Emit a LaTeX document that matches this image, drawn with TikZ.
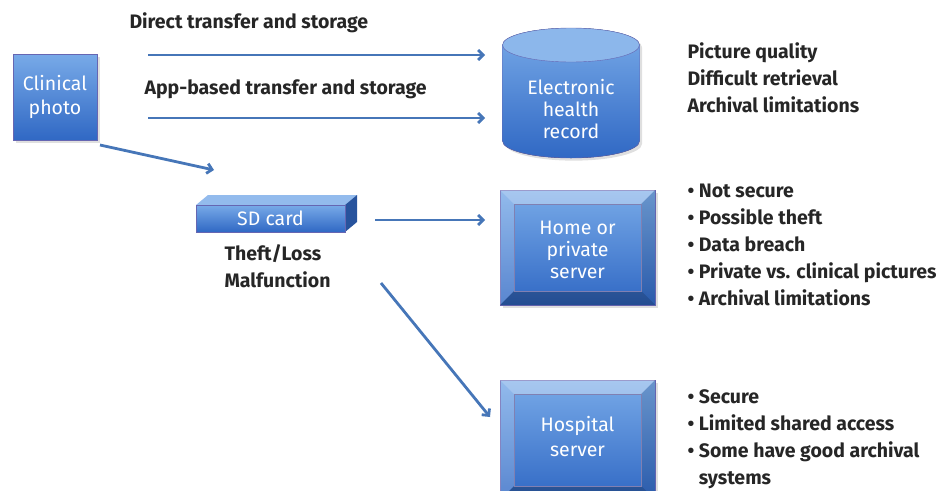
\documentclass[tikz,border=0pt]{standalone}
\usepackage{fontspec}
\setmainfont{Fira Sans}
\usetikzlibrary{positioning,arrows,arrows.meta,calc,shadows}
\definecolor{arrowblue}{RGB}{70,118,184}
\definecolor{lightblue}{RGB}{120,170,232}
\definecolor{darkblue}{RGB}{48,104,196}

\begin{document}
\begin{tikzpicture}[
    x=1pt, y=1pt,
    >={Straight Barb[length=5pt,width=10pt]},
    blu/.style ={
        top color=lightblue,
        bottom color=darkblue,
        draw=blue!50!black!60,
        text=white,
        align=center,
        font=\fontsize{19.5}{24}\selectfont
    },
    conn/.style ={
        ->,
        line width=2.8pt,
        draw=arrowblue
    },
    lbl/.style ={
        text=black!85,
        align=left,
        font=\fontsize{19.5}{27}\selectfont\bfseries
    }
    ]
    \useasboundingbox (0,0) rectangle (939,-490);

    \node[blu, minimum width=84, minimum height=86, drop shadow={opacity=0.25}]
        (photo) at (55,-97) {Clinical\\photo};

    \fill[top color=lightblue, bottom color=darkblue, drop shadow={opacity=0.25}]
        (502.5,-45) -- (502.5,-141) arc[start angle=180, end angle=360, x radius=68.5, y radius=17]
        -- (639.5,-45) arc[start angle=0, end angle=180, x radius=68.5, y radius=17] -- cycle;
    \draw[draw=blue!50!black!60, fill=lightblue!85!white]
        (571,-45) ellipse[x radius=68.5, y radius=17];
    \draw[draw=blue!50!black!60]
        (502.5,-45) -- (502.5,-141) arc[start angle=180, end angle=360, x radius=68.5, y radius=17]
        -- (639.5,-45);
    \node[text=white, align=center, font=\fontsize{19.5}{22}\selectfont]
        (ehr) at (571,-109) {Electronic\\health\\record};

    \fill[lightblue!80!white] (196,-205) -- (208,-195) -- (357,-195) -- (345,-205) -- cycle;
    \fill[darkblue!80!black] (345,-205) -- (357,-195) -- (357,-222) -- (345,-232) -- cycle;
    \node[blu, minimum width=149, minimum height=27, inner sep=0pt]
        (sdcard) at (270.5,-218.5) {SD card};

    \node[blu, minimum width=155, minimum height=115, drop shadow={opacity=0.25}]
        (homesrv) at (577.5,-247.5) {};
    \node[blu, minimum width=155, minimum height=120, drop shadow={opacity=0.25}]
        (hospsrv) at (577.5,-440) {};
    \foreach \s in {homesrv,hospsrv} {
        \fill[white, opacity=0.35] (\s.north west) -- (\s.north east)
            -- ([shift={(-14,-14)}]\s.north east) -- ([shift={(14,-14)}]\s.north west) -- cycle;
        \fill[white, opacity=0.2] (\s.north west) -- ([shift={(14,-14)}]\s.north west)
            -- ([shift={(14,14)}]\s.south west) -- (\s.south west) -- cycle;
        \fill[black, opacity=0.12] (\s.north east) -- ([shift={(-14,-14)}]\s.north east)
            -- ([shift={(-14,14)}]\s.south east) -- (\s.south east) -- cycle;
        \fill[black, opacity=0.25] (\s.south west) -- ([shift={(14,14)}]\s.south west)
            -- ([shift={(-14,14)}]\s.south east) -- (\s.south east) -- cycle;
        \draw[blue!40!black!50] ([shift={(14,-14)}]\s.north west) rectangle ([shift={(-14,14)}]\s.south east);
    }
    \node[text=white, align=center, font=\fontsize{19.5}{22}\selectfont]
        (hometxt) at (577.5,-250) {Home or\\private\\server};
    \node[text=white, align=center, font=\fontsize{19.5}{25}\selectfont]
        (hosptxt) at (577.5,-437) {Hospital\\server};

    \node[lbl, anchor=west] (direct) at (126,-23) {Direct transfer and storage};
    \node[lbl, anchor=west] (appbased) at (141,-89) {App-based transfer and storage};
    \node[lbl, anchor=north west] (sdrisk) at (221,-241.5) {Theft/Loss\\Malfunction};
    \node[lbl, anchor=north west] (ehrrisk) at (684,-39.5) {Picture quality\\Difficult retrieval\\Archival limitations};
    \node[lbl, anchor=north west] (homerisk) at (684,-180.5)
        {\textbullet\ Not secure\\\textbullet\ Possible theft\\\textbullet\ Data breach\\\textbullet\ Private vs. clinical pictures\\\textbullet\ Archival limitations};
    \node[lbl, anchor=north west] (hosprisk) at (684,-386.5)
        {\textbullet\ Secure\\\textbullet\ Limited shared access\\\textbullet\ Some have good archival\\\hphantom{\textbullet\ }systems};

    \coordinate (d1) at (148,-55);
    \coordinate (d2) at (485,-55);
    \coordinate (a1) at (148,-118);
    \coordinate (a2) at (485,-118);
    \coordinate (p1) at (100,-145);
    \coordinate (p2) at (214,-170);
    \coordinate (s1) at (375,-220);
    \coordinate (s2) at (485,-220);
    \coordinate (m1) at (381,-283);
    \coordinate (m2) at (490,-417);

    \draw[conn] (d1) -- (d2);
    \draw[conn] (a1) -- (a2);
    \draw[conn] (p1) -- (p2);
    \draw[conn] (s1) -- (s2);
    \draw[conn] (m1) -- (m2);
\end{tikzpicture}
\end{document}
